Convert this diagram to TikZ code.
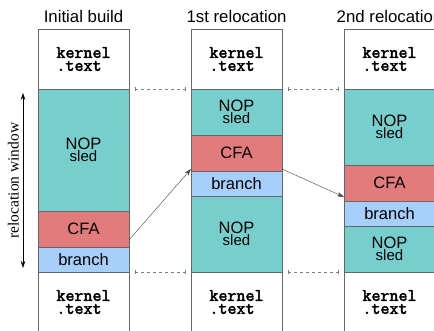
\documentclass[tikz,border=0pt]{standalone}
\usepackage{fontspec}
\setmainfont{Liberation Serif}
\setsansfont{Liberation Sans}
\setmonofont{Latin Modern Mono}[BoldFont=*,BoldFeatures={FakeBold=2.5}]
\usetikzlibrary{positioning,arrows.meta}

\definecolor{nopcol}{HTML}{77CFCD}
\definecolor{cfacol}{HTML}{E27C7C}
\definecolor{brcol}{HTML}{A6CFFB}

\begin{document}
\begin{tikzpicture}[x=1pt,y=1pt,>={Stealth[length=7pt,width=4.5pt]},node distance=0pt,
  blk/.style={rectangle,draw=black!60,line width=0.7pt,minimum width=91pt,inner sep=0pt,outer sep=0pt,
    font=\sffamily\fontsize{16.5}{16.5}\selectfont},
  kern/.style={blk,minimum height=60pt,align=left,font=\ttfamily\bfseries\fontsize{17.5}{13}\selectfont},
  nop/.style={blk,fill=nopcol,minimum height=#1,align=center},
  cfa/.style={blk,fill=cfacol,minimum height=36pt},
  br/.style={blk,fill=brcol,minimum height=25pt},
  title/.style={font=\sffamily\fontsize{16.8}{16.8}\selectfont,inner sep=0pt},
  gap/.style={{Bar[width=4pt]}-{Bar[width=4pt]},gray,thin,dash pattern=on 3pt off 3pt,shorten <=6pt,shorten >=6pt},
  move/.style={->,black!75,thin}]
\useasboundingbox (0,0) rectangle (434,331);

% initial build
\node[kern] (kt1) at (83.5,272) {kernel\\.text};
\node[nop=122pt,below=of kt1] (na1) {NOP\\[-5pt]{\fontsize{15}{15}\selectfont sled}};
\node[cfa,below=of na1] (cfa1) {CFA};
\node[br,below=of cfa1] (br1) {branch};
\node[kern,below=of br1] (kb1) {kernel\\.text};

% 1st relocation
\node[kern,right=62pt of kt1] (kt2) {kernel\\.text};
\node[nop=46pt,below=of kt2] (na2) {NOP\\[-5pt]{\fontsize{15}{15}\selectfont sled}};
\node[cfa,below=of na2] (cfa2) {CFA};
\node[br,below=of cfa2] (br2) {branch};
\node[nop=76pt,below=of br2] (nb2) {NOP\\[-5pt]{\fontsize{15}{15}\selectfont sled}};
\node[kern,below=of nb2] (kb2) {kernel\\.text};

% 2nd relocation
\node[kern,right=62pt of kt2] (kt3) {kernel\\.text};
\node[nop=76pt,below=of kt3] (na3) {NOP\\[-5pt]{\fontsize{15}{15}\selectfont sled}};
\node[cfa,below=of na3] (cfa3) {CFA};
\node[br,below=of cfa3] (br3) {branch};
\node[nop=46pt,below=of br3] (nb3) {NOP\\[-5pt]{\fontsize{15}{15}\selectfont sled}};
\node[kern,below=of nb3] (kb3) {kernel\\.text};

\node[title,above=6pt of kt1] (t1) {Initial build};
\node[title,above=6pt of kt2] (t2) {1st relocation};
\node[title,above=6pt of kt3] (t3) {2nd relocation};

% window edges
\draw[gap] (kt1.south east) -- (kt2.south west);
\draw[gap] (kb1.north east) -- (kb2.north west);
\draw[gap] (kt2.south east) -- (kt3.south west);
\draw[gap] (kb2.north east) -- (kb3.north west);

\draw[move] ([yshift=7pt]cfa1.south east) -- ([yshift=2pt]cfa2.south west);
\draw[move] ([yshift=2pt]cfa2.south east) -- ([yshift=4pt]cfa3.south west);

\draw[<->,thin] ([xshift=-15pt,yshift=-4pt]na1.north west) -- node[midway,rotate=90,anchor=south,inner sep=4pt,font=\rmfamily\fontsize{15.5}{15.5}\selectfont] {relocation window} ([xshift=-15pt,yshift=4pt]br1.south west);
\end{tikzpicture}
\end{document}
